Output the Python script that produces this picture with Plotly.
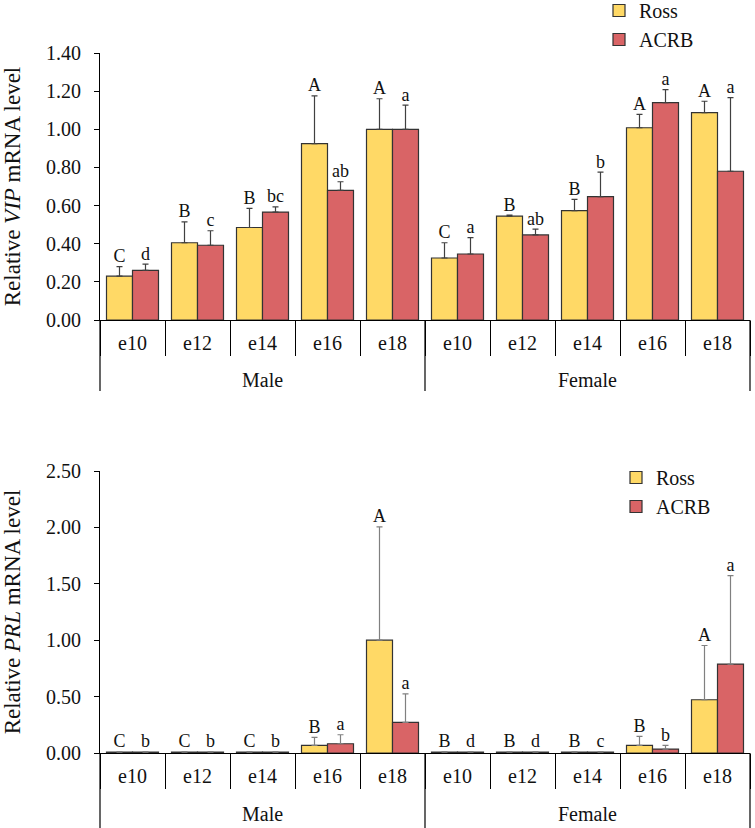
import plotly.graph_objects as go
from plotly.subplots import make_subplots

sexes = ["Male"] * 5 + ["Female"] * 5
ages = ["e10", "e12", "e14", "e16", "e18"] * 2

# VIP (top panel)
vip_ross = [0.23, 0.405, 0.485, 0.925, 1.00, 0.325, 0.545, 0.573, 1.008, 1.087]
vip_ross_sd = [0.05, 0.11, 0.10, 0.25, 0.16, 0.08, 0.005, 0.06, 0.07, 0.06]
vip_acrb = [0.26, 0.392, 0.566, 0.68, 1.00, 0.346, 0.446, 0.647, 1.14, 0.78]
vip_acrb_sd = [0.033, 0.076, 0.027, 0.045, 0.127, 0.086, 0.031, 0.128, 0.068, 0.386]
vip_ross_lab = ["C", "B", "B", "A", "A", "C", "B", "B", "A", "A"]
vip_acrb_lab = ["d", "c", "bc", "ab", "a", "a", "ab", "b", "a", "a"]

# PRL (bottom panel)
prl_ross = [0.008, 0.008, 0.008, 0.067, 1.00, 0.008, 0.008, 0.008, 0.067, 0.472]
prl_ross_sd = [0.004, 0.004, 0.004, 0.071, 1.005, 0.004, 0.004, 0.004, 0.08, 0.481]
prl_acrb = [0.008, 0.008, 0.008, 0.082, 0.271, 0.008, 0.008, 0.008, 0.035, 0.788]
prl_acrb_sd = [0.004, 0.004, 0.004, 0.08, 0.254, 0.004, 0.004, 0.004, 0.032, 0.785]
prl_ross_lab = ["C", "C", "C", "B", "A", "B", "B", "B", "B", "A"]
prl_acrb_lab = ["b", "b", "b", "a", "a", "d", "d", "c", "b", "a"]

vip_ticks = [0.0, 0.2, 0.4, 0.6, 0.8, 1.0, 1.2, 1.4]
prl_ticks = [0.0, 0.5, 1.0, 1.5, 2.0, 2.5]

YELLOW = "#FFD966"
RED = "#D96466"
EDGE = "#333333"
FONT = "Liberation Serif, Times New Roman, serif"

# outer group keys (blank, the group names are drawn as annotations below)
group_names = ["Male", "Female"]
group_keys = {"Male": "\u00a0", "Female": "\u00a0\u00a0"}
x = [[group_keys[s] for s in sexes], ages]

fig = make_subplots(rows=2, cols=1, vertical_spacing=0.1)


def add_panel(row, ross, ross_sd, acrb, acrb_sd, rlab, alab, err_color, legend):
    for name, vals, sd, color, grp in [
        ("Ross", ross, ross_sd, YELLOW, "g1"),
        ("ACRB", acrb, acrb_sd, RED, "g2"),
    ]:
        fig.add_trace(
            go.Bar(
                x=x, y=vals, name=name, offsetgroup=grp,
                marker=dict(color=color, line=dict(color=EDGE, width=1.2)),
                error_y=dict(type="data", array=sd, arrayminus=[0] * len(sd),
                             symmetric=False, color=err_color, thickness=1.2, width=3),
                legend=legend, showlegend=True,
            ),
            row=row, col=1,
        )
    for vals, sd, labs, grp in [
        (ross, ross_sd, rlab, "g1"),
        (acrb, acrb_sd, alab, "g2"),
    ]:
        fig.add_trace(
            go.Scatter(
                x=x, y=[v + s for v, s in zip(vals, sd)], mode="text", text=labs,
                textposition="top center", offsetgroup=grp,
                textfont=dict(family=FONT, size=18, color="#111"),
                showlegend=False, hoverinfo="skip",
            ),
            row=row, col=1,
        )


add_panel(1, vip_ross, vip_ross_sd, vip_acrb, vip_acrb_sd, vip_ross_lab, vip_acrb_lab, "#404040", "legend")
add_panel(2, prl_ross, prl_ross_sd, prl_acrb, prl_acrb_sd, prl_ross_lab, prl_acrb_lab, "#808080", "legend2")

H = 828.0
xaxis_common = dict(
    type="multicategory", showline=True, linecolor="black", linewidth=1.2,
    ticks="outside", tickson="boundaries", ticklen=35, tickcolor="black", tickwidth=1.2,
    ticklabelstandoff=5,
    showdividers=False,
    tickfont=dict(family=FONT, size=20, color="#111"),
    showgrid=False, automargin=False,
)
yaxis_common = dict(
    showline=True, linecolor="black", linewidth=1.2, ticks="outside", ticklen=5,
    tickcolor="black", tickwidth=1.2, tickformat=".2f", showgrid=False, zeroline=False,
    ticklabelstandoff=9,
    tickfont=dict(family=FONT, size=20, color="#111"), automargin=False,
)

fig.update_xaxes(**xaxis_common)
fig.update_yaxes(**yaxis_common)

# group names and group divider lines below each axis (pixel rows of axis, label, line end)
panels = [(320, 380, 391), (753, 814, 828)]
annotations = []
shapes = []
for axis_px, label_px, end_px in panels:
    for gi, g in enumerate(group_names):
        annotations.append(dict(
            text=g, xref="paper", yref="paper", x=(gi + 0.5) / len(group_names),
            y=(H - label_px) / H, xanchor="center", yanchor="middle", showarrow=False,
            font=dict(family=FONT, size=20, color="#111"),
        ))
    for k in range(len(group_names) + 1):
        xp = k / len(group_names)
        shapes.append(dict(
            type="line", xref="paper", yref="paper", x0=xp, x1=xp,
            y0=(H - axis_px) / H, y1=(H - end_px) / H,
            line=dict(color="black", width=1.2),
        ))

fig.update_layout(
    yaxis=dict(range=[0, 1.4], tickvals=vip_ticks,
               domain=[(H - 320) / H, (H - 53) / H],
               title=dict(text="Relative <i>VIP</i> mRNA level", standoff=19,
                          font=dict(family=FONT, size=23, color="#111"))),
    yaxis2=dict(range=[0, 2.5], tickvals=prl_ticks,
                domain=[(H - 753) / H, (H - 471) / H],
                title=dict(text="Relative <i>PRL</i> mRNA level", standoff=19,
                           font=dict(family=FONT, size=23, color="#111"))),
    barmode="group", bargap=0.2, bargroupgap=0,
    scattermode="group", scattergap=0.2,
    width=755, height=828,
    margin=dict(l=100, r=5, t=0, b=0, autoexpand=False),
    plot_bgcolor="white", paper_bgcolor="white",
    font=dict(family=FONT, color="#111"),
    annotations=annotations,
    shapes=shapes,
    legend=dict(x=(599 - 100) / 650, y=1.0 + 9 / H, xanchor="left", yanchor="top",
                font=dict(family=FONT, size=20, color="#111"), itemwidth=30,
                bgcolor="rgba(0,0,0,0)", tracegroupgap=0),
    legend2=dict(x=(616 - 100) / 650, y=(H - 458) / H, xanchor="left", yanchor="top",
                 font=dict(family=FONT, size=20, color="#111"), itemwidth=30,
                 bgcolor="rgba(0,0,0,0)", tracegroupgap=0),
    showlegend=True,
)

fig.write_html("out.html")
